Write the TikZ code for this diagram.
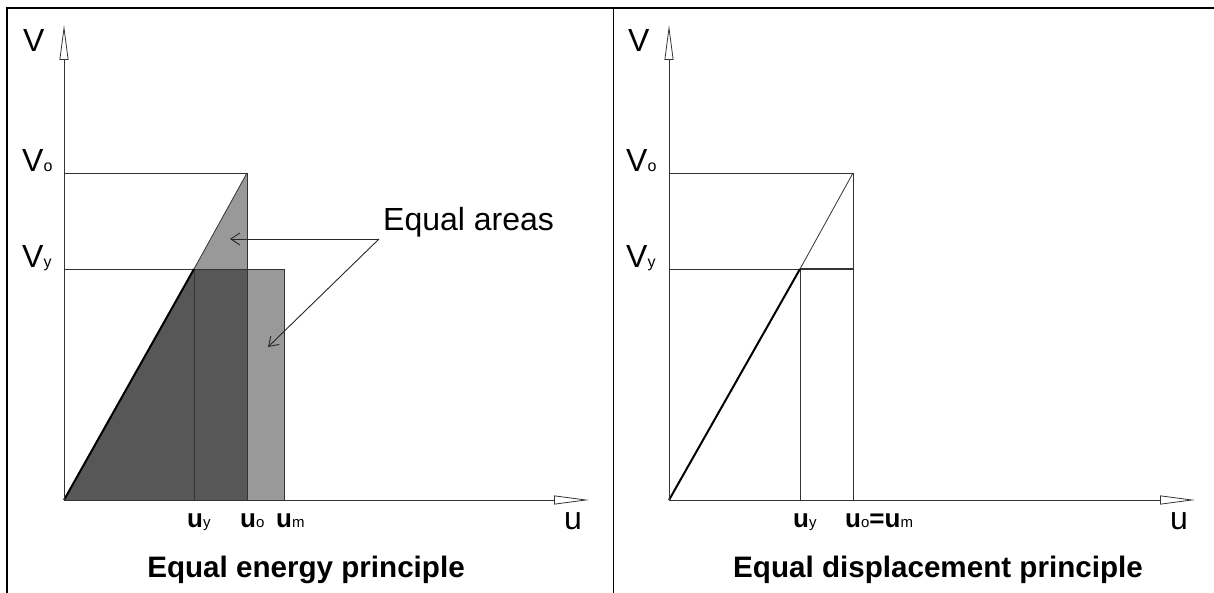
\documentclass[tikz,border=0pt]{standalone}
\usepackage{fontspec}
\setmainfont{Liberation Sans}
\usetikzlibrary{arrows.meta}
\newcommand{\lbl}[2]{{\fontsize{32}{36}\selectfont #1}{\fontsize{16}{16}\selectfont #2}}
\newcommand{\ulbl}[2]{{\fontsize{26}{30}\selectfont\bfseries #1}{\fontsize{15}{16}\selectfont #2}}
\begin{document}
\begin{tikzpicture}[x=1pt,y=-1pt,
  frame/.style={black,line width=1.6pt},
  thin/.style={draw=black!80,line width=0.8pt},
  boldline/.style={draw=black,line width=2pt},
  axis/.style={draw=black!80,line width=0.8pt,-{Triangle[open,length=35pt,width=9pt]}},
  note/.style={draw=black!85,line width=0.9pt,-{Straight Barb[length=9pt,width=12pt]}},
  lab/.style={inner sep=0pt,anchor=base west},
  title/.style={inner sep=0pt,anchor=base,font=\fontsize{29.6}{34}\selectfont\bfseries}]
\useasboundingbox (0,0) rectangle (1214,593);
% frame
\coordinate (ftl) at (7,8); \coordinate (ftr) at (1214,8);
\coordinate (fbl) at (7,593); \coordinate (dt) at (613,8); \coordinate (db) at (613,593);
\draw[frame] (fbl) -- (ftl) -- (ftr);
\draw[black,line width=1pt] (dt) -- (db);

% ---------- left panel ----------
\coordinate (O1) at (64,500);
\coordinate (Y1) at (194,269);
\coordinate (P1) at (247,173);
\coordinate (Q1) at (247,269);
\coordinate (R1) at (247,500);
\coordinate (M1) at (284,269);
\coordinate (N1) at (284,500);
\coordinate (Uy1) at (194,500);
\coordinate (Vo1) at (64,173);
\coordinate (Vy1) at (64,269);
\coordinate (Yt1) at (64,25);
\coordinate (Xt1) at (589,500);
\fill[black!66] (O1) -- (Y1) -- (Q1) -- (R1) -- cycle;
\fill[black!40] (Y1) -- (P1) -- (Q1) -- cycle;
\fill[black!40] (Q1) -- (M1) -- (N1) -- (R1) -- cycle;
\draw[thin] (Vo1) -- (P1);
\draw[thin] (Vy1) -- (M1) -- (N1);
\draw[thin] (Y1) -- (Uy1);
\draw[thin] (P1) -- (R1);
\draw[thin] (Y1) -- (P1);
\draw[boldline] (O1) -- (Y1);
\draw[axis] (O1) -- (Yt1);
\draw[axis] (O1) -- (Xt1);
\node[lab] (lV1) at (23,52) {\lbl{V}{}};
\node[lab] (lVo1) at (22,172) {\lbl{V}{o}};
\node[lab] (lVy1) at (22,268) {\lbl{V}{y}};
\node[lab] (luy1) at (187,527) {\ulbl{u}{y}};
\node[lab] (luo1) at (240,527) {\ulbl{u}{o}};
\node[lab] (lum1) at (276,527) {\ulbl{u}{m}};
\node[lab] (lu1) at (564,529) {\lbl{u}{}};
\node[lab] (areas) at (383,231) {\fontsize{32}{36}\selectfont Equal areas};
\coordinate (apex) at (379,239);
\coordinate (t1) at (230,239);
\coordinate (t2) at (268,347);
\draw[note] (apex) -- (t1);
\draw[note] (apex) -- (t2);
\node[title] (tt1) at (306,577) {Equal energy principle};

% ---------- right panel ----------
\coordinate (O2) at (669,500);
\coordinate (Y2) at (800,269);
\coordinate (P2) at (853,173);
\coordinate (Q2) at (853,269);
\coordinate (R2) at (853,500);
\coordinate (Uy2) at (800,500);
\coordinate (Vo2) at (669,173);
\coordinate (Vy2) at (669,269);
\coordinate (Yt2) at (669,25);
\coordinate (Xt2) at (1195,500);
\draw[thin] (Vo2) -- (P2);
\draw[thin] (Vy2) -- (Y2);
\draw[thin,line width=1.3pt] (Y2) -- (Q2);
\draw[thin] (Y2) -- (Uy2);
\draw[thin] (P2) -- (R2);
\draw[thin] (Y2) -- (P2);
\draw[boldline] (O2) -- (Y2);
\draw[axis] (O2) -- (Yt2);
\draw[axis] (O2) -- (Xt2);
\node[lab] (lV2) at (628,52) {\lbl{V}{}};
\node[lab] (lVo2) at (626,172) {\lbl{V}{o}};
\node[lab] (lVy2) at (626,268) {\lbl{V}{y}};
\node[lab] (luy2) at (793,527) {\ulbl{u}{y}};
\node[lab] (luom2) at (845,527) {\ulbl{u}{o}{\fontsize{26}{30}\selectfont\bfseries =}\ulbl{u}{m}};
\node[lab] (lu2) at (1170,529) {\lbl{u}{}};
\node[title] (tt2) at (938,577) {Equal displacement principle};
\end{tikzpicture}
\end{document}
